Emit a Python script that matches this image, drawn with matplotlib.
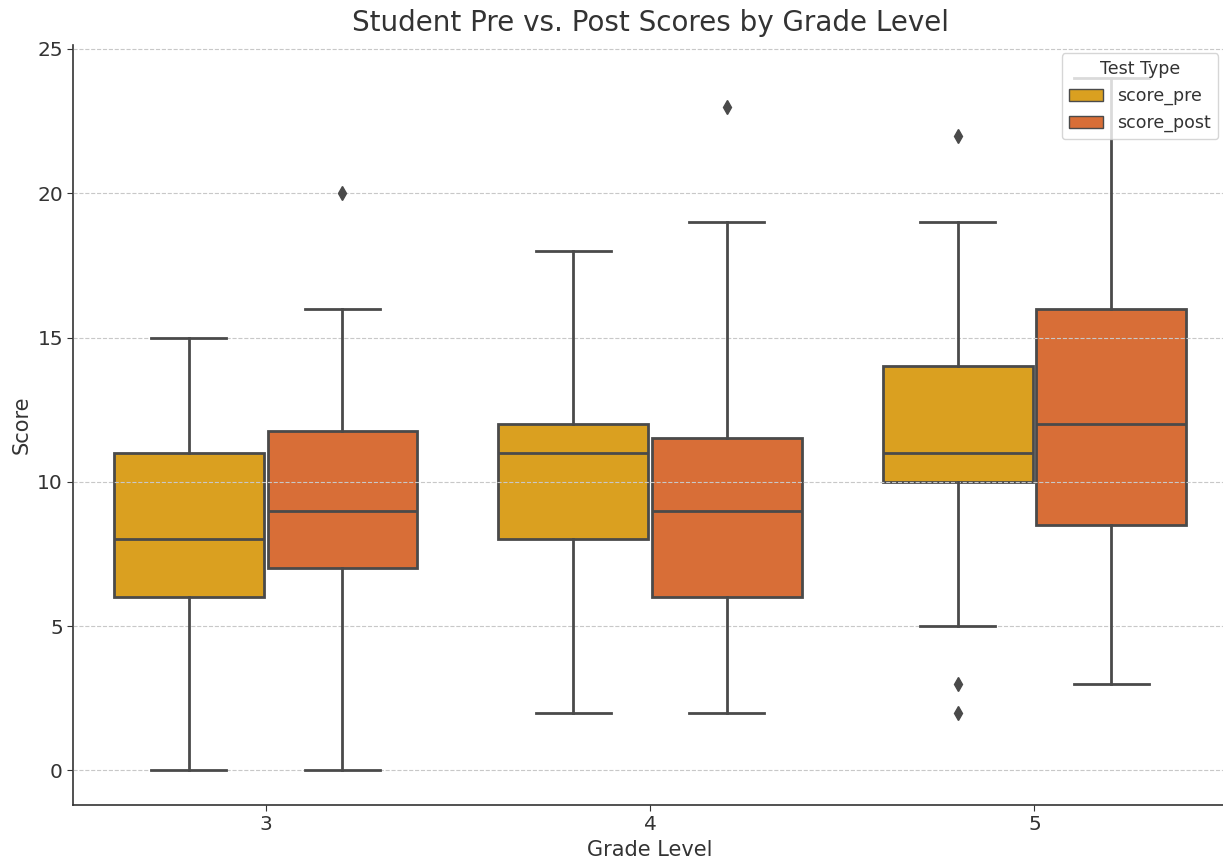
import matplotlib.pyplot as plt
import numpy as np

# box summary stats
grades = ['3', '4', '5']
test_types = ['score_pre', 'score_post']

pre_whislo = [0, 2, 5]
pre_q1 = [6, 8, 10]
pre_med = [8, 11, 11]
pre_q3 = [11, 12, 14]
pre_whishi = [15, 18, 19]
pre_fliers = [[], [], [22, 3, 2]]

post_whislo = [0, 2, 3]
post_q1 = [7, 6, 8.5]
post_med = [9, 9, 12]
post_q3 = [11.75, 11.5, 16]
post_whishi = [16, 19, 24]
post_fliers = [[20], [23], []]

colors = ['#DAA020', '#D86E37']
edge = '#4a4a4a'
text_c = '#333333'


def make_stats(lo, q1, med, q3, hi, fl):
    return [dict(whislo=a, q1=b, med=c, q3=d, whishi=e, fliers=f)
            for a, b, c, d, e, f in zip(lo, q1, med, q3, hi, fl)]


stats = [
    make_stats(pre_whislo, pre_q1, pre_med, pre_q3, pre_whishi, pre_fliers),
    make_stats(post_whislo, post_q1, post_med, post_q3, post_whishi, post_fliers),
]

fig, ax = plt.subplots(figsize=(12.23, 8.59), dpi=100)
fig.subplots_adjust(left=0.06, right=1.003, top=0.948, bottom=0.063)

x = np.arange(len(grades))
w = 0.39
offsets = [-0.2, 0.2]
line_kw = dict(color=edge, linewidth=2, zorder=3)
for i, st in enumerate(stats):
    ax.bxp(st, positions=x + offsets[i], widths=w, patch_artist=True,
           showfliers=True, manage_ticks=False,
           boxprops=dict(facecolor=colors[i], edgecolor=edge, linewidth=2, zorder=2),
           medianprops=line_kw, whiskerprops=line_kw, capprops=line_kw,
           capwidths=w / 2,
           flierprops=dict(marker='d', markerfacecolor=edge, markeredgecolor=edge,
                           markersize=7, zorder=3))

handles = [plt.Rectangle((0, 0), 1, 1, facecolor=c, edgecolor=edge, linewidth=1)
           for c in colors]
leg = ax.legend(handles, test_types, title='Test Type', loc='upper right',
                fontsize=12.5, title_fontsize=12.5)
for t in leg.get_texts():
    t.set_color(text_c)
leg.get_title().set_color(text_c)

ax.set_xticks(x)
ax.set_xticklabels(grades)
ax.set_xlim(-0.5, 2.5)
ax.set_ylim(-1.2, 25.15)
ax.set_yticks([0, 5, 10, 15, 20, 25])
ax.grid(axis='y', linestyle='--', color='#c8c8c8', linewidth=0.8, zorder=2.5)
ax.set_axisbelow(False)
for gl in ax.get_ygridlines():
    gl.set_zorder(2.5)

ax.spines['top'].set_visible(False)
ax.spines['right'].set_visible(False)
for s in ['left', 'bottom']:
    ax.spines[s].set_color(text_c)
    ax.spines[s].set_linewidth(1.2)
ax.tick_params(labelsize=14.5, colors=text_c, length=4)

ax.set_title('Student Pre vs. Post Scores by Grade Level', fontsize=20, color=text_c, pad=10)
ax.set_xlabel('Grade Level', fontsize=15, color=text_c, labelpad=4)
ax.set_ylabel('Score', fontsize=15, color=text_c)

fig.savefig('out.png', dpi=100)
